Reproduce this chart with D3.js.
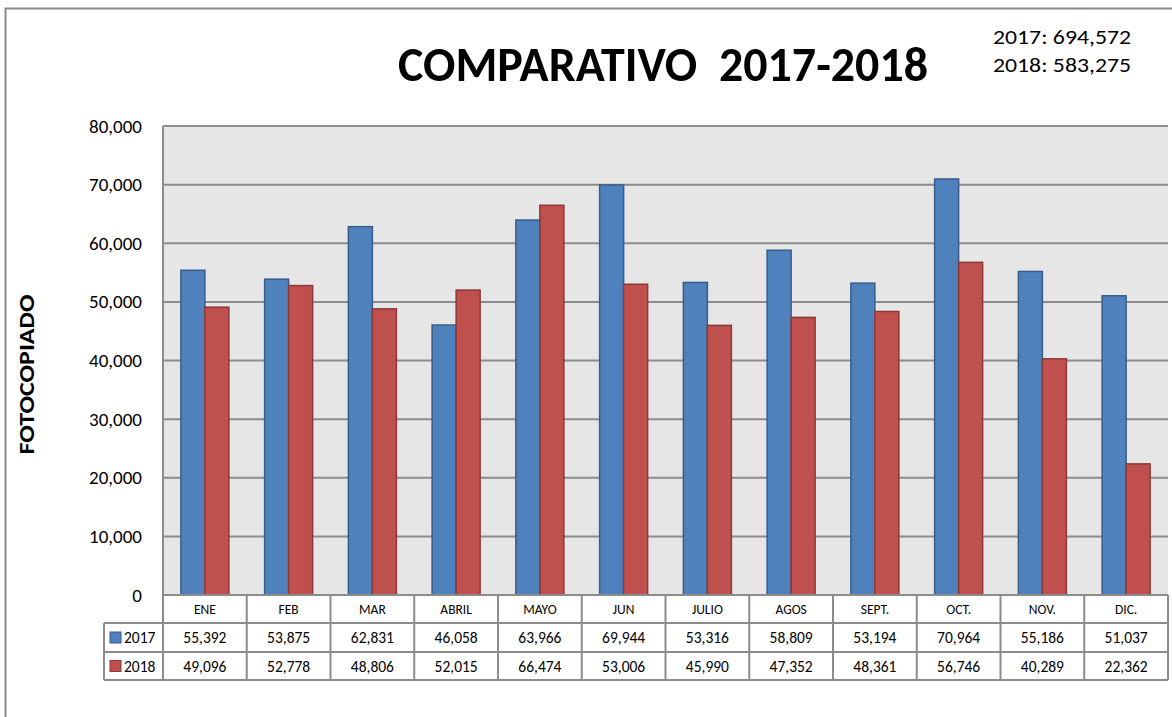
<!DOCTYPE html>
<html>
<head>
<meta charset="utf-8">
<script src="https://cdn.jsdelivr.net/npm/d3@7"></script>
<style>
  body { margin: 0; background: #fff; }
  text { font-family: Carlito, Lato, "Open Sans", sans-serif; fill: #000; }
</style>
</head>
<body>
<div id="container"></div>
<script>
let w = 1172;
let h = 717;

// data
let months = ["ENE", "FEB", "MAR", "ABRIL", "MAYO", "JUN", "JULIO", "AGOS", "SEPT.", "OCT.", "NOV.", "DIC."];
let series = ["2017", "2018"];
let values2017 = [55392, 53875, 62831, 46058, 63966, 69944, 53316, 58809, 53194, 70964, 55186, 51037];
let values2018 = [49096, 52778, 48806, 52015, 66474, 53006, 45990, 47352, 48361, 56746, 40289, 22362];
let totals = ["2017: 694,572", "2018: 583,275"];
let yTicks = [0, 10000, 20000, 30000, 40000, 50000, 60000, 70000, 80000];

let fills = { "2017": "#4F81BD", "2018": "#C0504D" };
let strokes = { "2017": "#385D8A", "2018": "#8C3836" };

let plotLeft = 163, plotRight = 1168, plotTop = 126, plotBottom = 595;
let rowTops = [595, 623, 652, 680];
let legendLeft = 104;

let rows = months.map(function(m, i) {
  return { month: m, "2017": values2017[i], "2018": values2018[i] };
});

let viz = d3.select("#container")
  .append("svg")
    .attr("width", w)
    .attr("height", h)
    .style("background-color", "white");

// outer chart frame (runs off right/bottom of the picture)
viz.append("rect")
  .attr("x", 5.5).attr("y", 8.5)
  .attr("width", 1300).attr("height", 900)
  .attr("fill", "none")
  .attr("stroke", "#8a8a8a")
  .attr("stroke-width", 2);

let xScale = d3.scaleBand().domain(months).range([plotLeft, plotRight]);
let xInner = d3.scaleBand().domain(series).range([0, xScale.bandwidth()]).paddingOuter(0.745);
let yScale = d3.scaleLinear().domain([0, 80000]).range([plotBottom, plotTop]);

// plot background
viz.append("rect")
  .attr("x", plotLeft).attr("y", plotTop)
  .attr("width", plotRight - plotLeft).attr("height", plotBottom - plotTop)
  .attr("fill", "#e6e6e6");

// gridlines
viz.selectAll(".grid").data(yTicks).enter()
  .append("line")
    .attr("x1", plotLeft).attr("x2", plotRight)
    .attr("y1", function(d) { return yScale(d); })
    .attr("y2", function(d) { return yScale(d); })
    .attr("stroke", "#8c8c8c")
    .attr("stroke-width", 2);

viz.append("line")
  .attr("x1", plotLeft).attr("x2", plotLeft)
  .attr("y1", plotTop).attr("y2", plotBottom)
  .attr("stroke", "#8c8c8c").attr("stroke-width", 2);

// y axis labels
let yAxis = d3.axisLeft(yScale).tickValues(yTicks).tickSize(0).tickPadding(21)
  .tickFormat(d3.format(","));
viz.append("g")
  .attr("transform", "translate(" + plotLeft + ",0)")
  .call(yAxis)
  .call(function(g) { g.select(".domain").remove(); })
  .selectAll("text")
    .style("font-size", "19px")
    .style("font-family", "Carlito, Lato, sans-serif")
    .attr("fill", "#000");

// bars
let groups = viz.selectAll(".datagroup").data(rows).enter()
  .append("g")
    .classed("datagroup", true)
    .attr("transform", function(d) { return "translate(" + xScale(d.month) + ",0)"; });

groups.selectAll("rect")
  .data(function(d) { return series.map(function(s) { return { key: s, value: d[s] }; }); })
  .enter()
  .append("rect")
    .attr("x", function(d) { return xInner(d.key); })
    .attr("y", function(d) { return yScale(d.value); })
    .attr("width", xInner.bandwidth())
    .attr("height", function(d) { return plotBottom - yScale(d.value); })
    .attr("fill", function(d) { return fills[d.key]; })
    .attr("stroke", function(d) { return strokes[d.key]; })
    .attr("stroke-width", 1.5);

// data table
let table = viz.append("g");
let lineColor = "#8c8c8c";

// horizontal lines
table.append("line").attr("x1", plotLeft).attr("x2", plotRight).attr("y1", rowTops[0]).attr("y2", rowTops[0])
  .attr("stroke", lineColor).attr("stroke-width", 2);
[1, 2, 3].forEach(function(r) {
  table.append("line").attr("x1", legendLeft).attr("x2", plotRight)
    .attr("y1", rowTops[r]).attr("y2", rowTops[r])
    .attr("stroke", lineColor).attr("stroke-width", 2);
});

// vertical lines
let vx = months.map(function(m) { return xScale(m); }).concat([plotRight]);
table.selectAll(".vline").data(vx).enter()
  .append("line")
    .attr("x1", function(d) { return d; }).attr("x2", function(d) { return d; })
    .attr("y1", rowTops[0]).attr("y2", rowTops[3])
    .attr("stroke", lineColor).attr("stroke-width", 2);
table.append("line").attr("x1", legendLeft).attr("x2", legendLeft)
  .attr("y1", rowTops[1]).attr("y2", rowTops[3])
  .attr("stroke", lineColor).attr("stroke-width", 2);

// month labels
table.selectAll(".mlabel").data(months).enter()
  .append("text")
    .attr("x", function(d) { return xScale(d) + xScale.bandwidth() / 2; })
    .attr("y", (rowTops[0] + rowTops[1]) / 2 + 5)
    .attr("text-anchor", "middle")
    .style("font-size", "13.5px")
    .text(function(d) { return d; });

// values
let fmt = d3.format(",");
series.forEach(function(s, si) {
  table.selectAll(".v" + s).data(rows).enter()
    .append("text")
      .attr("x", function(d) { return xScale(d.month) + xScale.bandwidth() / 2; })
      .attr("y", (rowTops[si + 1] + rowTops[si + 2]) / 2 + 5.5)
      .attr("text-anchor", "middle")
      .style("font-size", "15.5px")
      .text(function(d) { return fmt(d[s]); });

  table.append("rect")
    .attr("x", legendLeft + 6).attr("y", (rowTops[si + 1] + rowTops[si + 2]) / 2 - 5.5)
    .attr("width", 11).attr("height", 11)
    .attr("fill", fills[s]).attr("stroke", strokes[s]).attr("stroke-width", 1);
  table.append("text")
    .attr("x", legendLeft + 20)
    .attr("y", (rowTops[si + 1] + rowTops[si + 2]) / 2 + 5.5)
    .style("font-size", "15.5px")
    .text(s);
});

// title
viz.append("text")
  .attr("x", 398).attr("y", 81)
  .attr("textLength", 530)
  .attr("lengthAdjust", "spacingAndGlyphs")
  .style("font-size", "49px")
  .style("font-weight", "bold")
  .style("white-space", "pre")
  .text("COMPARATIVO  2017-2018");

viz.selectAll(".total").data(totals).enter()
  .append("text")
    .attr("x", 993)
    .attr("y", function(d, i) { return 44 + i * 28; })
    .attr("textLength", 138)
    .attr("lengthAdjust", "spacingAndGlyphs")
    .style("font-size", "20px")
    .text(function(d) { return d; });

// y axis title
viz.append("text")
  .attr("transform", "translate(34," + ((plotTop + plotBottom) / 2 + 14) + ") rotate(-90)")
  .attr("text-anchor", "middle")
  .attr("textLength", 160)
  .attr("lengthAdjust", "spacingAndGlyphs")
  .style("font-size", "22.5px")
  .style("font-weight", "bold")
  .text("FOTOCOPIADO");
</script>
</body>
</html>
